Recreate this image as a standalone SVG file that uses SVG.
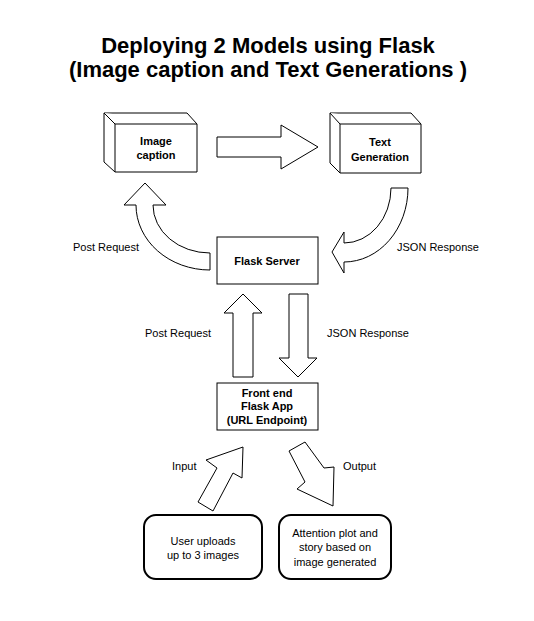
<svg xmlns="http://www.w3.org/2000/svg" width="534" height="621" viewBox="0 0 534 621">
<style>
.s{fill:#fff;stroke:#000;stroke-width:1;stroke-linejoin:miter}
.r{fill:#fff;stroke:#000;stroke-width:2}
text{font-family:"Liberation Sans",Arial,Helvetica,sans-serif;fill:#000}
.t{font-size:22px;font-weight:bold;text-anchor:middle}
.b{font-size:11px;font-weight:bold;text-anchor:middle}
.l{font-size:11px}
.n{font-size:11px;text-anchor:middle}
</style>
<rect width="534" height="621" fill="#fff"/>
<g id="title">
<text class="t" x="268" y="53">Deploying 2 Models using Flask</text>
<text class="t" x="268" y="77">(Image caption and Text Generations )</text>
</g>
<g id="image-caption">
<path class="s" d="M104,113 L187,113 L197,124 L197,172 L115,172 L104,162 Z"/>
<path class="s" d="M104,113 L115,124 L197,124 M115,124 L115,172"/>
<text class="b" x="156" y="145">Image</text>
<text class="b" x="156" y="159">caption</text>
</g>
<g id="text-generation">
<path class="s" d="M330,113 L411,113 L421,124 L421,173 L340,173 L330,163 Z"/>
<path class="s" d="M330,113 L340,124 L421,124 M340,124 L340,173"/>
<text class="b" x="380" y="146">Text</text>
<text class="b" x="380" y="161">Generation</text>
</g>
<g id="flask-server">
<rect class="s" x="217" y="237" width="101" height="47"/>
<text class="b" x="267" y="265">Flask Server</text>
</g>
<g id="front-end">
<rect class="s" x="217" y="383" width="101" height="47"/>
<text class="b" x="267" y="397">Front end</text>
<text class="b" x="267" y="410">Flask App</text>
<text class="b" x="267" y="424">(URL Endpoint)</text>
</g>
<g id="user-uploads">
<rect class="r" x="144" y="515" width="118" height="64" rx="12" ry="12"/>
<text class="n" x="203" y="545">User uploads</text>
<text class="n" x="203" y="559">up to 3 images</text>
</g>
<g id="attention-plot">
<rect class="r" x="279" y="515" width="112" height="64" rx="12" ry="12"/>
<text class="n" x="335" y="537">Attention plot and</text>
<text class="n" x="335" y="551">story based on</text>
<text class="n" x="335" y="566">image generated</text>
</g>
<g id="connectors">
<path class="s" d="M217,137 L281,137 L281,125 L318,147 L281,169 L281,157 L217,157 Z"/>
<path class="s" d="M210,253 A57,48 0 0 1 153,205 L166,205 L145,183 L124,205 L136,205 A74,65 0 0 0 210,270 Z"/>
<path class="s" d="M391,188 L408,188 A64,74 0 0 1 344,262 L344,273 L332,252 L344,232 L344,243 A47,55 0 0 0 391,188 Z"/>
<path class="s" d="M233,377 L233,313 L224,313 L243,294 L262,313 L253,313 L253,377 Z"/>
<path class="s" d="M289,294 L308,294 L308,358 L317,358 L298,377 L279,358 L289,358 Z"/>
<path class="s" d="M243,447 L206,460 L217,468 L198,502 L213,511 L233,473 L242,478 Z"/>
<path class="s" d="M289,451 L305,442 L324,468 L334,467 L333,506 L297,489 L305,482 Z"/>
</g>
<g id="labels">
<text class="l" x="73" y="251">Post Request</text>
<text class="l" x="397" y="251">JSON Response</text>
<text class="l" x="145" y="337">Post Request</text>
<text class="l" x="327" y="337">JSON Response</text>
<text class="l" x="172" y="470">Input</text>
<text class="l" x="343" y="470">Output</text>
</g>
</svg>
